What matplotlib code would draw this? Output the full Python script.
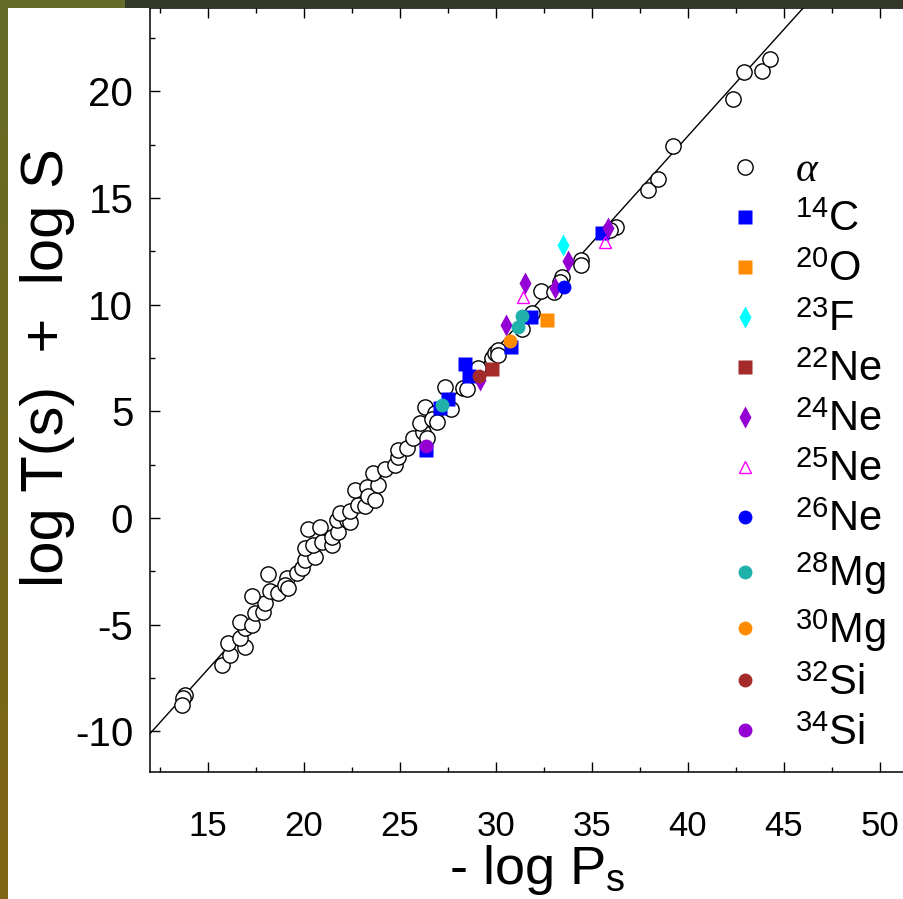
import numpy as np
import matplotlib
matplotlib.use('Agg')
import matplotlib.pyplot as plt
from matplotlib.patches import Rectangle
from matplotlib.colors import LinearSegmentedColormap

plt.rcParams['font.family'] = ['Liberation Sans', 'DejaVu Sans']
plt.rcParams['mathtext.fontset'] = 'custom'
plt.rcParams['mathtext.rm'] = 'Liberation Sans'
plt.rcParams['mathtext.it'] = 'Liberation Serif:italic'
plt.rcParams['axes.unicode_minus'] = False

# alpha decay points (open circles)
alpha_x = [13.84, 13.74, 13.68, 15.76, 16.18, 16.08, 16.96, 16.70, 16.96, 16.70,
           17.32, 17.48, 17.89, 17.99, 17.32, 18.26, 18.68, 18.16, 19.15, 19.04,
           19.20, 19.67, 19.93, 20.08, 20.60, 20.08, 20.50, 20.97, 21.49, 20.24,
           20.86, 21.49, 21.80, 21.75, 22.27, 22.42, 21.90, 22.42, 22.84, 23.20,
           22.68, 23.31, 23.36, 23.72, 23.88, 23.62, 24.25, 24.77, 24.92, 24.92,
           25.39, 25.70, 26.22, 26.43, 26.06, 26.32, 26.84, 26.69, 26.95, 27.36,
           27.68, 28.30, 28.51, 29.08, 29.81, 29.97, 30.13, 30.13, 31.37, 31.89,
           32.36, 33.04, 33.45, 33.35, 34.44, 34.44, 36.26, 35.95, 37.93, 38.45,
           39.23, 42.35, 42.92, 43.86, 44.27]
alpha_y = [-8.30, -8.44, -8.77, -6.89, -6.42, -5.86, -6.05, -5.63, -5.16, -4.88,
           -5.02, -4.45, -4.41, -3.98, -3.65, -3.42, -3.51, -2.62, -2.81, -3.14,
           -3.28, -2.58, -2.34, -1.97, -1.83, -1.41, -1.27, -1.13, -1.27, -0.52,
           -0.43, -0.90, -0.66, -0.10, -0.10, -0.19, 0.23, 0.33, 0.61, 0.56,
           1.31, 1.45, 1.03, 0.84, 1.55, 2.11, 2.30, 2.49, 2.86, 3.19,
           3.28, 3.75, 4.03, 3.75, 4.45, 5.20, 4.92, 4.64, 4.50, 6.14,
           5.11, 6.10, 6.05, 7.03, 7.50, 7.73, 7.87, 7.64, 8.86, 9.61,
           10.64, 10.60, 11.30, 11.07, 12.10, 11.86, 13.66, 13.52, 15.38, 15.89,
           17.44, 19.64, 20.91, 20.96, 21.52]

# cluster decays
c14_x = [35.54, 31.84, 30.80, 28.41, 28.61, 27.52, 27.10, 26.38]
c14_y = [13.36, 9.42, 8.02, 7.22, 6.66, 5.58, 5.16, 3.19]
o20_x = [32.67]
o20_y = [9.28]
f23_x = [33.51]
f23_y = [12.80]
ne22_x = [29.81]
ne22_y = [6.99]
ne24_x = [35.85, 33.77, 33.09, 31.53, 30.54, 29.19]
ne24_y = [13.60, 12.05, 10.78, 11.02, 9.05, 6.47]
ne25_x = [35.69, 31.43]
ne25_y = [12.94, 10.36]
ne26_x = [33.56]
ne26_y = [10.83]
mg28_x = [31.37, 31.16, 27.21]
mg28_y = [9.47, 8.95, 5.30]
mg30_x = [30.75]
mg30_y = [8.30]
si32_x = [29.14]
si32_y = [6.66]
si34_x = [26.38]
si34_y = [3.38]

# universal curve
fit_slope = 1.0
fit_intercept = -22.1
fit_x = np.array([12.0, 46.5])

fig = plt.figure(figsize=(9.04, 8.99), dpi=100)

# frame strips of the slide
fig.patches.append(Rectangle((0, 1 - 8 / 899), 1, 8 / 899, transform=fig.transFigure,
                             facecolor='#333826', edgecolor='none', zorder=5))
fig.patches.append(Rectangle((0, 1 - 8 / 899), 125 / 904, 8 / 899, transform=fig.transFigure,
                             facecolor='#646b28', edgecolor='none', zorder=6))
gax = fig.add_axes([0, 0, 8 / 904, 1])
cmap = LinearSegmentedColormap.from_list('strip', ['#646b28', '#806614'])
gax.imshow(np.linspace(0, 1, 256).reshape(-1, 1), aspect='auto', cmap=cmap)
gax.set_axis_off()

ax = fig.add_axes([150 / 904, 127 / 899, 754 / 904, 764 / 899])

ax.plot(fit_x, fit_slope * fit_x + fit_intercept, color='black', lw=1.0, zorder=1)

ax.plot(alpha_x, alpha_y, 'o', ms=11, mfc='white', mec='black', mew=1.0, label=r'$\alpha$', zorder=2)
ax.plot(c14_x, c14_y, 's', ms=9.5, color='#0000ff', mec='none', label=r'$^{14}$C', zorder=3)
ax.plot(o20_x, o20_y, 's', ms=9.5, color='#ff8c00', mec='none', label=r'$^{20}$O', zorder=3)
ax.plot(f23_x, f23_y, 'd', ms=11, color='#00ffff', mec='none', label=r'$^{23}$F', zorder=3)
ax.plot(ne22_x, ne22_y, 's', ms=9.5, color='#a52a2a', mec='none', label=r'$^{22}$Ne', zorder=3)
ax.plot(ne24_x, ne24_y, 'd', ms=11, color='#9400d3', mec='none', label=r'$^{24}$Ne', zorder=3)
ax.plot(ne25_x, ne25_y, '^', ms=9, mfc='none', mec='#ff00ff', mew=1.0, label=r'$^{25}$Ne', zorder=3)
ax.plot(ne26_x, ne26_y, 'o', ms=10, color='#0000ff', mec='none', label=r'$^{26}$Ne', zorder=3)
ax.plot(mg28_x, mg28_y, 'o', ms=10, color='#20b2aa', mec='none', label=r'$^{28}$Mg', zorder=3)
ax.plot(mg30_x, mg30_y, 'o', ms=10, color='#ff8c00', mec='none', label=r'$^{30}$Mg', zorder=3)
ax.plot(si32_x, si32_y, 'o', ms=10, color='#a52a2a', mec='none', label=r'$^{32}$Si', zorder=3)
ax.plot(si34_x, si34_y, 'o', ms=10, color='#9400d3', mec='none', label=r'$^{34}$Si', zorder=3)

ax.set_xlim(12, 51.25)
ax.set_ylim(-11.9, 23.9)
ax.set_xticks(np.arange(15, 51, 5))
ax.set_xticks(np.arange(12.5, 51, 2.5), minor=True)
ax.set_yticks(np.arange(-10, 21, 5))
ax.set_yticks(np.arange(-10, 23, 2.5), minor=True)
ax.tick_params(which='both', direction='in', top=True, right=False, width=1.0)
ax.tick_params(which='major', length=7)
ax.tick_params(which='minor', length=3.5)
ax.tick_params(axis='x', labelsize=25, pad=27)
ax.tick_params(axis='y', labelsize=29, pad=12)
ax.spines['right'].set_visible(False)
for s in ['left', 'top', 'bottom']:
    ax.spines[s].set_linewidth(1.1)

ax.set_xlabel('- log P$_\\mathrm{s}$', fontsize=39)
ax.xaxis.label.set_verticalalignment('baseline')
ax.xaxis.set_label_coords(0.513, -0.147)
ax.set_ylabel('log T(s)  +  log S', fontsize=43)
ax.yaxis.set_label_coords(-0.10, 0.53)

leg = ax.legend(loc='upper left', bbox_to_anchor=(0.772, 0.8135), frameon=False, fontsize=30,
                handlelength=0.6, handletextpad=0.9, labelspacing=0.24, borderpad=0,
                borderaxespad=0)

fig.savefig('out.png', dpi=100)
